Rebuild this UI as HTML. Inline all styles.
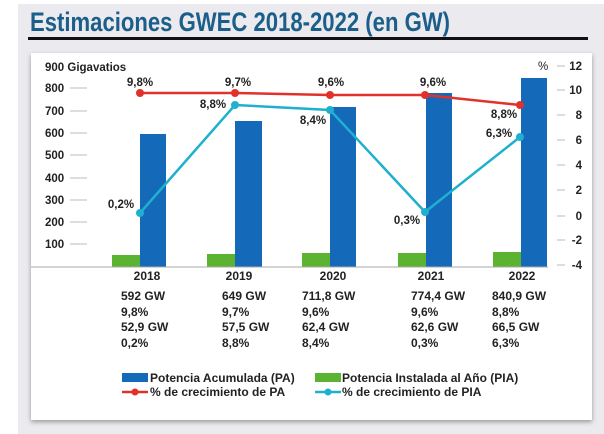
<!DOCTYPE html>
<html><head><meta charset="utf-8"><style>
html,body{margin:0;padding:0;background:#fff;}
svg{display:block;}
text{font-family:"Liberation Sans",sans-serif;fill:#222;}
</style></head><body>
<svg width="604" height="434" viewBox="0 0 604 434" xmlns="http://www.w3.org/2000/svg">
<defs><filter id="sh" x="-5%" y="-5%" width="110%" height="110%"><feDropShadow dx="0" dy="2" stdDeviation="2.5" flood-color="#000" flood-opacity="0.35"/></filter></defs>
<rect x="18" y="4" width="586" height="430" fill="#ebeaee"/>
<text x="30" y="31" font-family="Liberation Sans Narrow" font-weight="bold" font-size="27" textLength="420" lengthAdjust="spacingAndGlyphs" style="fill:#1b5e8a;font-family:'Liberation Sans Narrow','Liberation Sans',sans-serif">Estimaciones GWEC 2018-2022 (en GW)</text>
<rect x="28" y="37" width="560" height="3" fill="#111"/>
<rect x="31" y="53" width="561" height="367" fill="#fff" filter="url(#sh)"/>
<!-- left axis -->
<g font-size="11.5" font-weight="bold">
<text x="45" y="71">900 Gigavatios</text>
<text x="45" y="92">800</text><text x="45" y="115">700</text><text x="45" y="137">600</text><text x="45" y="159">500</text><text x="45" y="182">400</text><text x="45" y="204">300</text><text x="45" y="226">200</text><text x="45" y="248">100</text>
</g>
<g stroke="#bbb" stroke-width="1">
<line x1="70" y1="88" x2="87" y2="88"/><line x1="70" y1="111" x2="87" y2="111"/><line x1="70" y1="133" x2="87" y2="133"/><line x1="70" y1="155" x2="87" y2="155"/><line x1="70" y1="178" x2="87" y2="178"/><line x1="70" y1="200" x2="87" y2="200"/><line x1="70" y1="222" x2="87" y2="222"/><line x1="70" y1="244" x2="87" y2="244"/>
<line x1="557" y1="66" x2="565" y2="66"/><line x1="557" y1="90" x2="565" y2="90"/><line x1="557" y1="115" x2="565" y2="115"/><line x1="557" y1="140" x2="565" y2="140"/><line x1="557" y1="165" x2="565" y2="165"/><line x1="557" y1="190" x2="565" y2="190"/><line x1="557" y1="216" x2="565" y2="216"/><line x1="557" y1="240" x2="565" y2="240"/><line x1="557" y1="265" x2="565" y2="265"/>
</g>
<g font-size="11.5" font-weight="bold" text-anchor="end">
<text x="538" y="70" text-anchor="start" font-weight="normal">%</text>
<text x="582" y="70">12</text><text x="582" y="94">10</text><text x="582" y="119">8</text><text x="582" y="144">6</text><text x="582" y="169">4</text><text x="582" y="194">2</text><text x="582" y="220">0</text><text x="582" y="244">-2</text><text x="582" y="269">-4</text>
</g>
<!-- bars -->
<g fill="#1469b8">
<rect x="140" y="134" width="26" height="133"/>
<rect x="235" y="121" width="27" height="146"/>
<rect x="330" y="107" width="26" height="160"/>
<rect x="426" y="93" width="26" height="174"/>
<rect x="521" y="78" width="26" height="189"/>
</g>
<g fill="#5cb331">
<rect x="112" y="255" width="28" height="12"/>
<rect x="207" y="254" width="28" height="13"/>
<rect x="302" y="253" width="28" height="14"/>
<rect x="398" y="253" width="28" height="14"/>
<rect x="493" y="252" width="28" height="15"/>
</g>
<line x1="31" y1="267" x2="548" y2="267" stroke="#aaa" stroke-width="1"/>
<!-- lines -->
<polyline points="140,93 235,93 330,95 425,95 520,105" fill="none" stroke="#e0322a" stroke-width="2.5"/>
<g fill="#e0322a"><circle cx="140" cy="93" r="4"/><circle cx="235" cy="93" r="4"/><circle cx="330" cy="95" r="4"/><circle cx="425" cy="95" r="4"/><circle cx="520" cy="105" r="4"/></g>
<polyline points="140,213 235,105 330,110 425,212 520,137" fill="none" stroke="#1fb0d0" stroke-width="2.5"/>
<g fill="#1fb0d0"><circle cx="140" cy="213" r="4"/><circle cx="235" cy="105" r="4"/><circle cx="330" cy="110" r="4"/><circle cx="425" cy="212" r="4"/><circle cx="520" cy="137" r="4"/></g>
<g font-size="11.5" font-weight="bold" text-anchor="middle">
<text x="140" y="86">9,8%</text><text x="238" y="86">9,7%</text><text x="331" y="86">9,6%</text><text x="433" y="86">9,6%</text>
<text x="504" y="118">8,8%</text><text x="213" y="108">8,8%</text><text x="313" y="124">8,4%</text>
<text x="121" y="208">0,2%</text><text x="407" y="224">0,3%</text><text x="499" y="137">6,3%</text>
</g>
<g font-size="12" font-weight="bold" text-anchor="middle">
<text x="147" y="280">2018</text><text x="239" y="280">2019</text><text x="333" y="280">2020</text><text x="431" y="280">2021</text><text x="522" y="280">2022</text>
</g>
<g font-size="12" font-weight="bold">
<text x="121" y="300">592 GW</text><text x="121" y="316">9,8%</text><text x="121" y="331">52,9 GW</text><text x="121" y="347">0,2%</text>
<text x="222" y="300">649 GW</text><text x="222" y="316">9,7%</text><text x="222" y="331">57,5 GW</text><text x="222" y="347">8,8%</text>
<text x="302" y="300">711,8 GW</text><text x="302" y="316">9,6%</text><text x="302" y="331">62,4 GW</text><text x="302" y="347">8,4%</text>
<text x="411" y="300">774,4 GW</text><text x="411" y="316">9,6%</text><text x="411" y="331">62,6 GW</text><text x="411" y="347">0,3%</text>
<text x="492" y="300">840,9 GW</text><text x="492" y="316">8,8%</text><text x="492" y="331">66,5 GW</text><text x="492" y="347">6,3%</text>
</g>
<!-- legend -->
<rect x="122" y="373" width="26" height="9" fill="#1469b8"/>
<rect x="315" y="373" width="26" height="9" fill="#5cb331"/>
<line x1="122" y1="392" x2="148" y2="392" stroke="#e0322a" stroke-width="2.5"/><circle cx="135" cy="392" r="3.5" fill="#e0322a"/>
<line x1="315" y1="392" x2="341" y2="392" stroke="#1fb0d0" stroke-width="2.5"/><circle cx="328" cy="392" r="3.5" fill="#1fb0d0"/>
<g font-size="12" font-weight="bold">
<text x="150" y="382">Potencia Acumulada (PA)</text>
<text x="342" y="382">Potencia Instalada al Año (PIA)</text>
<text x="150" y="396">% de crecimiento de PA</text>
<text x="342" y="396">% de crecimiento de PIA</text>
</g>
</svg>
</body></html>
